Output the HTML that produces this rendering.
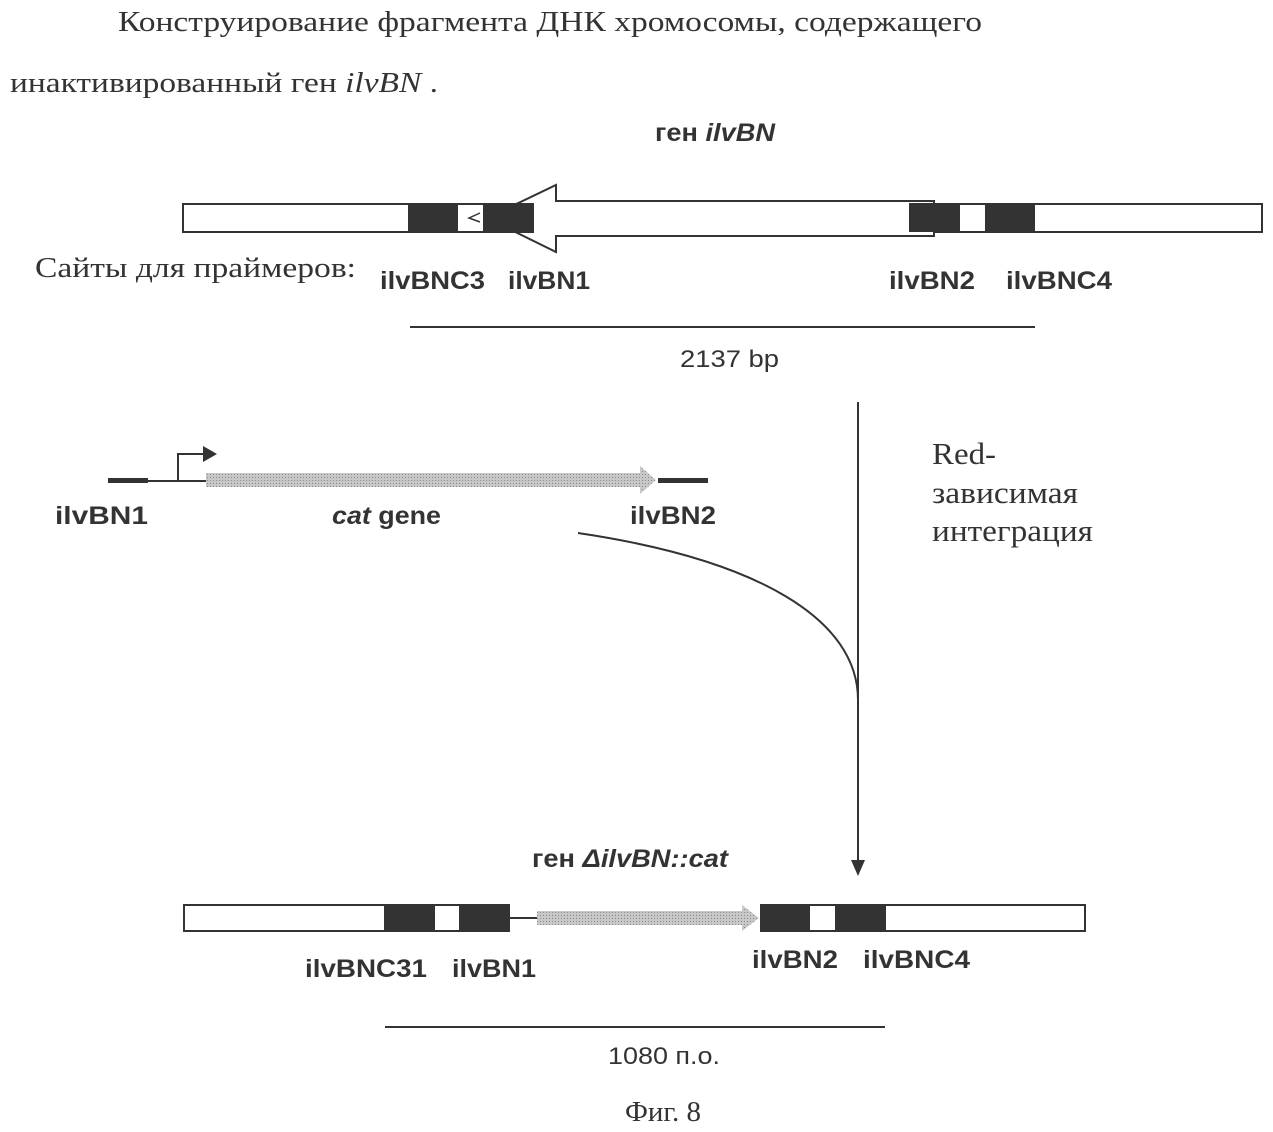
<!DOCTYPE html>
<html><head><meta charset="utf-8"><style>
html,body{margin:0;padding:0;background:#fff;}
svg{display:block;}
.s{font-family:"Liberation Serif","Noto Serif CJK SC",serif;fill:#333;}
.b{font-family:"Liberation Sans","Noto Sans CJK SC",sans-serif;font-weight:bold;fill:#333;}
.n{font-family:"Liberation Sans","Noto Sans CJK SC",sans-serif;fill:#333;}
</style></head><body>
<svg width="1273" height="1132" viewBox="0 0 1273 1132" xmlns="http://www.w3.org/2000/svg">
<defs>
<pattern id="g" width="3" height="3" patternUnits="userSpaceOnUse"><rect width="3" height="3" fill="#c8c8c8"/><rect width="1" height="1" fill="#888"/></pattern>
</defs>
<text class="s" x="118" y="31" font-size="29" textLength="864" lengthAdjust="spacingAndGlyphs">Конструирование фрагмента ДНК хромосомы, содержащего</text>
<text class="s" x="10" y="92" font-size="29" textLength="428" lengthAdjust="spacingAndGlyphs">инактивированный ген <tspan font-style="italic">ilvBN</tspan> .</text>

<text class="b" x="655" y="141" font-size="25" textLength="120" lengthAdjust="spacingAndGlyphs">ген <tspan font-style="italic">ilvBN</tspan></text>

<!-- top bar -->
<rect x="183" y="204" width="1079" height="28" fill="#fff" stroke="#333" stroke-width="2"/>
<rect x="408" y="203" width="50" height="30" fill="#333"/>
<polygon points="487,218 556,185 556,201 934,201 934,236 556,236 556,252" fill="#fff" stroke="#333" stroke-width="2"/>
<rect x="483" y="203" width="51" height="30" fill="#333"/>
<path d="M480,213 L469,218 L480,222" fill="none" stroke="#333" stroke-width="1.5"/>
<rect x="909" y="203" width="51" height="29" fill="#333"/>
<rect x="985" y="203" width="50" height="29" fill="#333"/>

<text class="s" x="35" y="277" font-size="29" textLength="321" lengthAdjust="spacingAndGlyphs">Сайты для праймеров:</text>
<text class="b" x="380" y="289" font-size="25" textLength="105" lengthAdjust="spacingAndGlyphs">ilvBNC3</text>
<text class="b" x="508" y="289" font-size="25" textLength="82" lengthAdjust="spacingAndGlyphs">ilvBN1</text>
<text class="b" x="889" y="289" font-size="25" textLength="86" lengthAdjust="spacingAndGlyphs">ilvBN2</text>
<text class="b" x="1006" y="289" font-size="25" textLength="106" lengthAdjust="spacingAndGlyphs">ilvBNC4</text>

<line x1="410" y1="327" x2="1035" y2="327" stroke="#333" stroke-width="2"/>
<text class="n" x="680" y="367" font-size="24" textLength="99" lengthAdjust="spacingAndGlyphs">2137 bp</text>

<!-- vertical arrow -->
<line x1="858" y1="402" x2="858" y2="862" stroke="#333" stroke-width="2"/>
<polygon points="851,860 865,860 858,876" fill="#333"/>
<path d="M578,533 C760,560 858,620 858,700" fill="none" stroke="#333" stroke-width="2"/>

<text class="s" x="932" y="464" font-size="31" textLength="64" lengthAdjust="spacingAndGlyphs">Red-</text>
<text class="s" x="932" y="503" font-size="31" textLength="146" lengthAdjust="spacingAndGlyphs">зависимая</text>
<text class="s" x="932" y="541" font-size="31" textLength="161" lengthAdjust="spacingAndGlyphs">интеграция</text>

<!-- cat row -->
<rect x="108" y="478" width="40" height="5" fill="#333"/>
<line x1="148" y1="481" x2="206" y2="481" stroke="#333" stroke-width="2"/>
<path d="M178,481 L178,454 L205,454" fill="none" stroke="#333" stroke-width="2"/>
<polygon points="203,446 203,462 217,454" fill="#333"/>
<polygon points="206,473 640,473 640,466 656,480 640,494 640,487 206,487" fill="url(#g)"/>
<rect x="658" y="478" width="50" height="5" fill="#333"/>
<text class="b" x="55" y="524" font-size="25" textLength="93" lengthAdjust="spacingAndGlyphs">ilvBN1</text>
<text class="b" x="332" y="524" font-size="25" textLength="109" lengthAdjust="spacingAndGlyphs"><tspan font-style="italic">cat</tspan> gene</text>
<text class="b" x="630" y="524" font-size="25" textLength="86" lengthAdjust="spacingAndGlyphs">ilvBN2</text>

<!-- bottom -->
<text class="b" x="532" y="867" font-size="25" textLength="196" lengthAdjust="spacingAndGlyphs">ген <tspan font-style="italic">ΔilvBN::cat</tspan></text>
<rect x="184" y="905" width="901" height="26" fill="#fff" stroke="#333" stroke-width="2"/>
<rect x="384" y="904" width="51" height="28" fill="#333"/>
<rect x="459" y="904" width="51" height="28" fill="#333"/>
<rect x="510" y="903" width="250" height="30" fill="#fff"/>
<line x1="510" y1="918" x2="537" y2="918" stroke="#333" stroke-width="2"/>
<polygon points="537,911 742,911 742,905 759,918 742,931 742,925 537,925" fill="url(#g)"/>
<rect x="760" y="904" width="50" height="28" fill="#333"/>
<rect x="835" y="904" width="51" height="28" fill="#333"/>
<text class="b" x="305" y="977" font-size="25" textLength="122" lengthAdjust="spacingAndGlyphs">ilvBNC31</text>
<text class="b" x="452" y="977" font-size="25" textLength="84" lengthAdjust="spacingAndGlyphs">ilvBN1</text>
<text class="b" x="752" y="968" font-size="25" textLength="86" lengthAdjust="spacingAndGlyphs">ilvBN2</text>
<text class="b" x="863" y="968" font-size="25" textLength="107" lengthAdjust="spacingAndGlyphs">ilvBNC4</text>

<line x1="385" y1="1027" x2="885" y2="1027" stroke="#333" stroke-width="2"/>
<text class="n" x="608" y="1064" font-size="24" textLength="112" lengthAdjust="spacingAndGlyphs">1080 п.о.</text>
<text class="s" x="663" y="1121" font-size="29" text-anchor="middle">Фиг. 8</text>
</svg>
</body></html>
